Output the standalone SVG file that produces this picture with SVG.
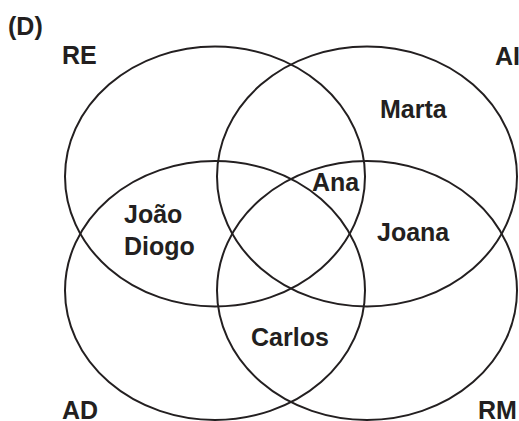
<svg xmlns="http://www.w3.org/2000/svg" width="519" height="421" viewBox="0 0 519 421">
<style>
.c{fill:none;stroke:#231f20;stroke-width:2}
text{font-family:"Liberation Sans",Arial,sans-serif;font-weight:bold;font-size:25px;fill:#231f20}
</style>
<rect width="519" height="421" fill="#fff"/>
<g id="sets">
<g id="RE"><ellipse class="c" cx="215" cy="176.5" rx="150" ry="130"/></g>
<g id="AI"><ellipse class="c" cx="367" cy="176.5" rx="150" ry="130"/></g>
<g id="AD"><ellipse class="c" cx="215" cy="290.5" rx="150" ry="129.5"/></g>
<g id="RM"><ellipse class="c" cx="367" cy="290.5" rx="150" ry="129.5"/></g>
</g>
<g id="labels">
<text x="8" y="35">(D)</text>
<text x="62" y="64">RE</text>
<text x="495" y="65">AI</text>
<text x="62" y="419">AD</text>
<text x="478" y="419">RM</text>
<text x="380" y="118">Marta</text>
<text x="312" y="191">Ana</text>
<text x="124" y="223">João</text>
<text x="124" y="255">Diogo</text>
<text x="377" y="241">Joana</text>
<text x="251" y="346">Carlos</text>
</g>
</svg>
